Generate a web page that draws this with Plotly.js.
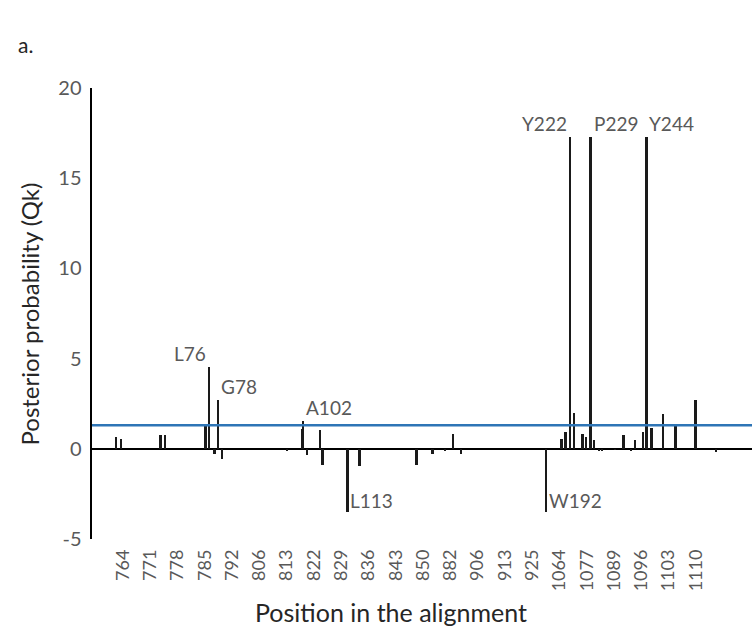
<!DOCTYPE html>
<html>
<head>
<meta charset="utf-8">
<script src="https://cdn.plot.ly/plotly-3.0.1.min.js"></script>
<style>html,body{margin:0;padding:0;background:#fff}#chart{width:752px;height:633px}</style>
</head>
<body>
<div id="chart"></div>
<script>
// Alignment column index of each bar (0 = column labelled 764)
const sitePositions = [-1.7, -0.4, 9.7, 10.8, 21.2, 22.1, 23.5, 24.4, 25.5, 42.1, 45.9, 46.2, 47.3, 50.5, 51.2, 57.6, 60.7, 75.3, 79.4, 82.7, 84.7, 86.8, 108.5, 112.5, 113.6, 114.7, 115.8, 117.9, 118.8, 120.0, 120.9, 122.1, 123.0, 126.3, 128.4, 130.4, 131.4, 133.5, 134.3, 135.6, 138.5, 141.8, 146.9, 152.2];
// Posterior probability Qk (negative = depleted)
const qkValues = [0.68, 0.55, 0.76, 0.76, 1.35, 4.55, -0.27, 2.7, -0.55, -0.1, 1.1, 1.52, -0.37, 1.02, -0.9, -3.5, -0.95, -0.9, -0.3, -0.12, 0.82, -0.3, -3.5, 0.55, 0.94, 17.3, 1.98, 0.82, 0.67, 17.3, 0.48, -0.1, -0.1, -0.08, 0.76, -0.1, 0.49, 0.94, 17.3, 1.14, 1.93, 1.3, 2.68, -0.16];
// x tick labels (every 7th column)
const tickPositions = [0, 7, 14, 21, 28, 35, 42, 49, 56, 63, 70, 77, 84, 91, 98, 105, 112, 119, 126, 133, 140, 147];
const tickLabels = ['764', '771', '778', '785', '792', '806', '813', '822', '829', '836', '843', '850', '882', '906', '913', '925', '1064', '1077', '1089', '1096', '1103', '1110'];
// y ticks
const yTickValues = [-5, 0, 5, 10, 15, 20];
const yTickLabels = ['-5', '0', '5', '10', '15', '20'];
// Labelled residues: name, index into the bar arrays, side of the bar
const residueNames = ['L76', 'G78', 'A102', 'L113', 'W192', 'Y222', 'P229', 'Y244'];
const residueBars = [5, 7, 11, 15, 22, 25, 29, 38];
const residueSides = ['left', 'right', 'right', 'right', 'right', 'left', 'right', 'right'];
const threshold = 1.3;

const FONT = 'Lato, "Open Sans", sans-serif';
const GREY = '#595959';

const annotations = residueNames.map((name, k) => {
  const i = residueBars[k];
  const v = qkValues[i];
  const left = residueSides[k] === 'left';
  return {
    x: sitePositions[i], y: v, xref: 'x', yref: 'y', text: name, showarrow: false,
    xanchor: left ? 'right' : 'left', yanchor: 'bottom',
    xshift: left ? -1 : 1, yshift: v > 0 ? 0 : -2,
    font: {family: FONT, size: 19, color: GREY}
  };
});
annotations.push({
  x: -0.094, y: 0.5, xref: 'paper', yref: 'paper', text: 'Posterior probability (Qk)', textangle: -90,
  showarrow: false, xanchor: 'center', yanchor: 'middle', font: {family: FONT, size: 24, color: '#262626'}
});
annotations.push({
  x: (391 - 92) / 660, y: -(612 - 539) / 451, xref: 'paper', yref: 'paper', text: 'Position in the alignment',
  showarrow: false, xanchor: 'center', yanchor: 'middle', font: {family: FONT, size: 25, color: '#262626'}
});
annotations.push({
  x: (25 - 92) / 660, y: (539 - 45) / 451, xref: 'paper', yref: 'paper', text: 'a.',
  showarrow: false, xanchor: 'center', yanchor: 'middle', font: {family: FONT, size: 21, color: '#262626'}
});

const data = [{
  type: 'bar', x: sitePositions, y: qkValues, width: 0.6,
  marker: {color: '#1a1a1a', line: {width: 0}}, hoverinfo: 'x+y'
}];

const layout = {
  width: 752, height: 633,
  margin: {l: 92, r: 0, t: 88, b: 94, pad: 0},
  paper_bgcolor: '#fff', plot_bgcolor: '#fff',
  showlegend: false, bargap: 0,
  xaxis: {
    range: [-7.9, 161.4], tickmode: 'array', tickvals: tickPositions, ticktext: tickLabels,
    tickangle: -90, showgrid: false, zeroline: false, showline: false, ticks: '',
    ticklabelstandoff: 6, tickfont: {family: FONT, size: 18, color: GREY}
  },
  yaxis: {
    range: [-5, 20], tickmode: 'array', tickvals: yTickValues, ticktext: yTickLabels,
    showgrid: false, showline: true, linecolor: '#000', linewidth: 2.5,
    ticks: '', zeroline: true, zerolinecolor: '#000', zerolinewidth: 2.5,
    ticklabelstandoff: 4, tickfont: {family: FONT, size: 20, color: GREY}
  },
  shapes: [{
    type: 'line', xref: 'paper', x0: 0, x1: 1, yref: 'y', y0: threshold, y1: threshold,
    line: {color: '#2E75B6', width: 2.5}, layer: 'above'
  }],
  annotations: annotations
};

Plotly.newPlot('chart', data, layout, {displayModeBar: false, staticPlot: true});
</script>
</body>
</html>
